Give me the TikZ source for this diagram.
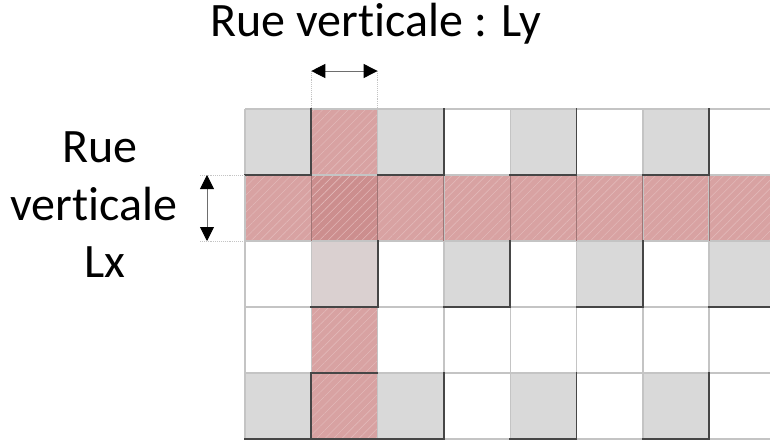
\documentclass[tikz,border=0pt]{standalone}
\usepackage{fontspec}
\setmainfont{Carlito}[Ligatures=NoCommon]
\usetikzlibrary{arrows.meta,patterns.meta}

\definecolor{cellgray}{RGB}{217,217,217}
\definecolor{cellgraypink}{RGB}{218,208,208}
\definecolor{street}{RGB}{216,162,162}
\definecolor{streetcross}{RGB}{204,142,142}
\definecolor{hatchline}{RGB}{226,184,184}
\definecolor{gridlight}{RGB}{196,196,196}
\definecolor{griddark}{RGB}{70,70,70}
\definecolor{streetedge}{RGB}{160,118,118}
\definecolor{dimline}{RGB}{110,110,110}

\tikzset{
  hatch/.style={pattern={Lines[angle=45,distance=6pt,line width=0.6pt]},pattern color=hatchline},
  lightline/.style={draw=gridlight,line width=1.4pt},
  darkline/.style={draw=griddark,line width=1.8pt},
  edgeline/.style={draw=streetedge,line width=1pt},
  dimarrow/.style={draw=dimline,line width=0.9pt,{Triangle[length=14pt,width=14pt,color=black]}-{Triangle[length=14pt,width=14pt,color=black]}},
  extline/.style={draw=gridlight,line width=0.9pt,densely dotted},
  label/.style={font=\fontsize{48}{58}\selectfont,anchor=base,inner sep=0pt}
}

\begin{document}
\begin{tikzpicture}[x=1pt,y=-1pt]
\useasboundingbox (0,0) rectangle (770,441);
\clip (0,0) rectangle (770,441);

\def\cw{66.3}
\def\ch{66}
\def\gx{245}
\def\gy{109}

% cell fills: G = gray, P = pinkish gray, R = street, W = white
\foreach \row/\pat in {0/{G,R,G,W,G,W,G,W},
                       2/{W,P,W,G,W,G,W,G},
                       3/{W,R,W,W,W,W,W,W},
                       4/{G,R,G,W,G,W,G,W}}{
  \foreach \t [count=\c from 0] in \pat {
    \pgfmathsetmacro\xa{\gx+\c*\cw}
    \pgfmathsetmacro\ya{\gy+\row*\ch}
    \if\t G\fill[cellgray] (\xa,\ya) rectangle ++(\cw,\ch);\fi
    \if\t P\fill[cellgraypink] (\xa,\ya) rectangle ++(\cw,\ch);\fi
    \if\t R\fill[street] (\xa,\ya) rectangle ++(\cw,\ch);
           \fill[hatch] (\xa,\ya) rectangle ++(\cw,\ch);\fi
  }
}
% horizontal street
\fill[street] (\gx,\gy+\ch) rectangle (800,\gy+2*\ch);
\fill[hatch] (\gx,\gy+\ch) rectangle (800,\gy+2*\ch);
% crossing of the two streets
\fill[streetcross] (\gx+\cw,\gy+\ch) rectangle ++(\cw,\ch);
\fill[hatch] (\gx+\cw,\gy+\ch) rectangle ++(\cw,\ch);

% light grid
\foreach \c in {0,...,8}{
  \draw[lightline] (\gx+\c*\cw,\gy) -- (\gx+\c*\cw,\gy+5*\ch);
}
\foreach \r in {0,...,5}{
  \draw[lightline] (\gx,\gy+\r*\ch) -- (800,\gy+\r*\ch);
}

% street cell borders
\foreach \c in {1,...,8}{
  \draw[edgeline] (\gx+\c*\cw,\gy+\ch) -- (\gx+\c*\cw,\gy+2*\ch);
}

% dark right and bottom edges of the shaded blocks
\foreach \row/\cols in {0/{0,2,4,6},2/{1,3,5,7},4/{0,2,4,6}}{
  \foreach \c in \cols {
    \draw[darkline,line cap=rect] (\gx+\c*\cw+\cw,\gy+\row*\ch) -- (\gx+\c*\cw+\cw,\gy+\row*\ch+\ch) -- (\gx+\c*\cw,\gy+\row*\ch+\ch);
  }
}
\draw[darkline] (\gx+\cw,\gy+4*\ch) -- (\gx+2*\cw,\gy+4*\ch);
\draw[darkline] (\gx+\cw,\gy+5*\ch) -- (\gx+2*\cw,\gy+5*\ch);

% dimension of the vertical street
\coordinate (ya) at (\gx+\cw,71);
\coordinate (yb) at (\gx+2*\cw,71);
\coordinate (yat) at (\gx+\cw,\gy);
\coordinate (ybt) at (\gx+2*\cw,\gy);
\draw[extline] (ya) -- (yat);
\draw[extline] (yb) -- (ybt);
\draw[dimarrow] (ya) -- (yb);

% dimension of the horizontal street
\coordinate (xa) at (207,\gy+\ch);
\coordinate (xb) at (207,\gy+2*\ch);
\coordinate (xat) at (\gx,\gy+\ch);
\coordinate (xbt) at (\gx,\gy+2*\ch);
\draw[extline] (200,\gy+\ch) -- (xat);
\draw[extline] (200,\gy+2*\ch) -- (xbt);
\draw[dimarrow] (xa) -- (xb);

% labels
\node[label] (ly) at (376,37) {Rue verticale : Ly};
\node[label] (lx1) at (100,162) {Rue};
\node[label] (lx2) at (94,220) {verticale};
\node[label] (lx3) at (105,277) {Lx};
\end{tikzpicture}
\end{document}
